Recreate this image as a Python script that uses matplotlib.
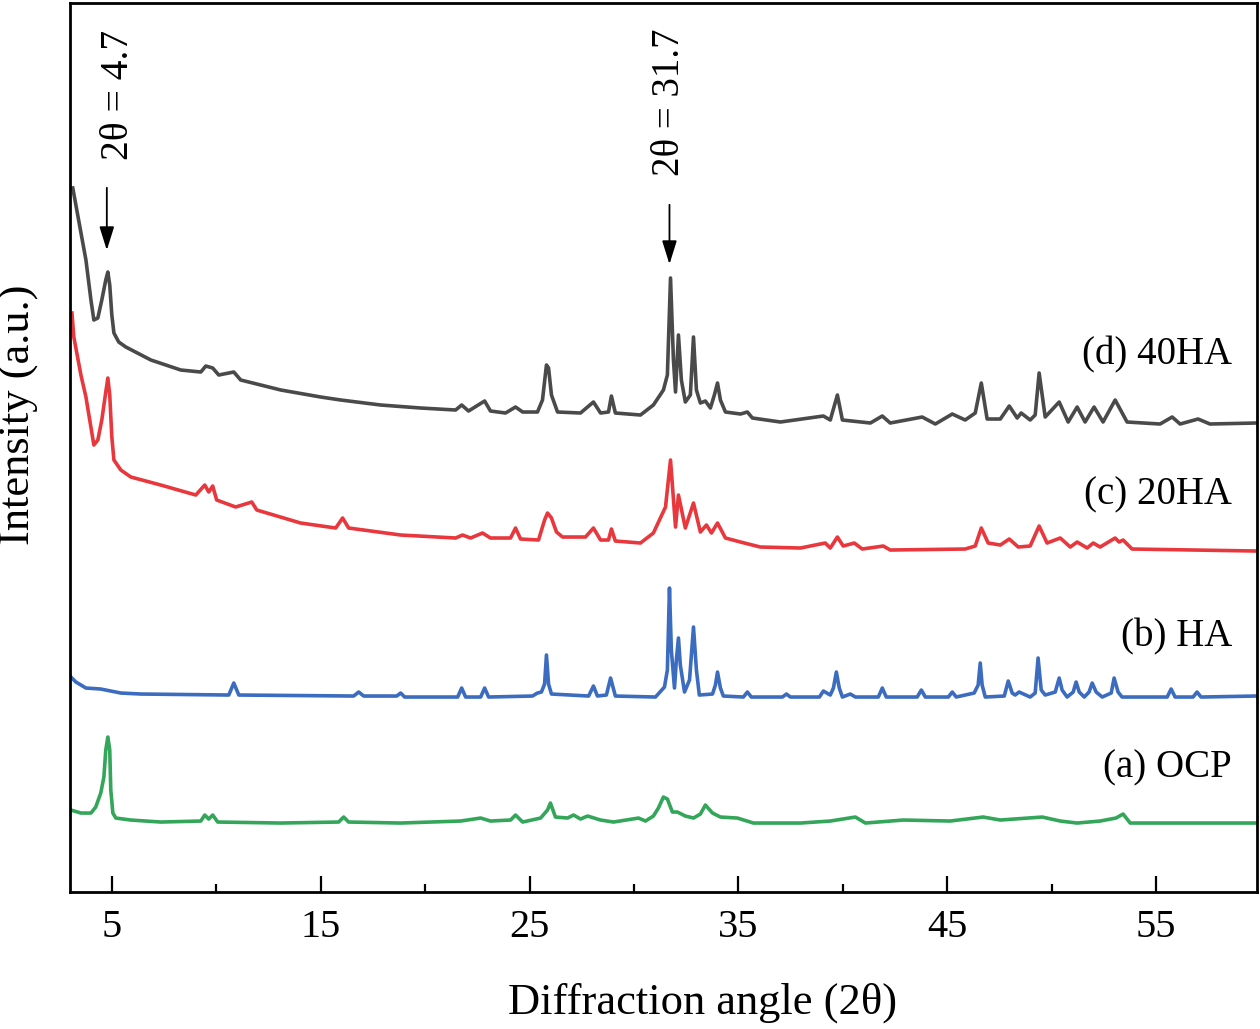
import matplotlib
matplotlib.use('Agg')
from matplotlib import pyplot as plt
from matplotlib.ticker import MultipleLocator

plt.rcParams['font.family'] = ['Liberation Serif', 'DejaVu Serif']

# (d) 40HA
d_x = [3.13, 3.76, 4.0, 4.14, 4.33, 4.52, 4.71, 4.81, 4.90, 5.0, 5.10, 5.33, 5.67, 6.87, 8.30,
       9.26, 9.50, 9.83, 10.12, 10.84, 11.17, 13.09, 15.0, 15.96, 17.87, 19.78, 21.46, 21.75,
       22.08, 22.85, 23.13, 23.85, 24.33, 24.67, 25.38, 25.62, 25.81, 25.91, 26.05, 26.34,
       27.44, 28.06, 28.40, 28.78, 28.92, 29.11, 30.31, 30.93, 31.41, 31.60, 31.75, 31.89,
       31.99, 32.13, 32.27, 32.46, 32.70, 32.85, 32.99, 33.18, 33.42, 33.66, 33.85, 34.00,
       34.14, 34.38, 35.10, 35.43, 35.67, 37.01, 39.07, 39.40, 39.74, 39.98, 41.32, 41.89,
       42.27, 43.80, 44.43, 45.24, 45.86, 46.34, 46.63, 46.91, 47.54, 47.97, 48.35, 48.54,
       48.97, 49.21, 49.40, 49.69, 50.36, 50.79, 51.22, 51.60, 52.03, 52.46, 53.04, 53.61,
       55.19, 55.77, 56.15, 57.01, 57.58, 59.79]
d_y = [704, 632, 592, 572, 574, 592, 612, 620, 607, 577, 559, 550, 545, 532, 522,
       520, 526, 524, 517, 520, 512, 502, 495, 492, 487, 484, 482, 487,
       481, 491, 481, 479, 485, 480, 480, 492, 527, 524, 497, 480,
       479, 490, 479, 480, 496, 479, 477, 487, 502, 517, 614, 532,
       500, 557, 512, 490, 497, 555, 502, 489, 491, 484, 497, 509,
       492, 480, 478, 480, 474, 470, 476, 472, 497, 472, 469, 476,
       469, 475, 468, 478, 472, 479, 509, 473, 473, 486, 474, 479,
       472, 477, 519, 475, 490, 470, 485, 470, 485, 470, 492, 470,
       468, 475, 468, 473, 468, 469]

# (c) 20HA
c_x = [3.09, 3.18, 3.52, 3.76, 4.14, 4.33, 4.52, 4.71, 4.81, 4.90, 5.0, 5.10, 5.43, 5.91,
       7.34, 9.02, 9.45, 9.64, 9.83, 10.02, 10.93, 11.70, 11.94, 14.04, 15.72, 16.05, 16.34,
       18.83, 21.46, 21.79, 22.18, 22.75, 23.13, 24.09, 24.33, 24.57, 25.43, 25.72, 25.86,
       26.05, 26.29, 26.58, 27.68, 28.06, 28.40, 28.78, 28.92, 29.11, 30.31, 30.93, 31.51,
       31.75, 31.99, 32.13, 32.46, 32.85, 33.18, 33.47, 33.71, 34.00, 34.38, 35.10, 36.05,
       37.97, 39.16, 39.40, 39.74, 40.02, 40.55, 40.93, 41.94, 42.27, 45.86, 46.34, 46.63,
       46.96, 47.54, 47.97, 48.40, 48.97, 49.40, 49.78, 50.41, 50.89, 51.22, 51.70, 51.99,
       52.32, 53.04, 53.23, 53.42, 53.85, 59.79]
c_y = [579, 555, 517, 495, 447, 452, 472, 500, 514, 497, 455, 432, 422, 415,
       407, 397, 407, 400, 406, 392, 385, 390, 382, 369, 364, 374, 364,
       357, 354, 357, 354, 359, 354, 354, 364, 353, 352, 372, 379,
       374, 360, 355, 355, 364, 352, 352, 363, 351, 349, 359, 385,
       432, 365, 397, 364, 389, 360, 367, 359, 369, 354, 350, 345,
       344, 349, 344, 355, 346, 349, 343, 346, 342, 343, 346, 364,
       349, 347, 353, 345, 346, 366, 349, 354, 345, 350, 344, 349,
       345, 354, 350, 352, 343, 341]

# (b) HA
b_x = [3.04, 3.28, 3.76, 4.47, 4.95, 5.43, 6.39, 10.60, 10.84, 11.08, 16.58, 16.82, 17.06,
       18.64, 18.83, 19.02, 21.56, 21.75, 21.94, 22.66, 22.85, 23.04, 25.14, 25.38, 25.57,
       25.72, 25.81, 25.91, 26.05, 27.83, 28.06, 28.25, 28.68, 28.88, 29.11, 31.03, 31.46,
       31.60, 31.70, 31.79, 31.94, 32.03, 32.13, 32.22, 32.42, 32.66, 32.85, 32.99, 33.13,
       33.76, 33.90, 34.00, 34.14, 34.28, 35.24, 35.43, 35.62, 37.11, 37.30, 37.49, 38.88,
       39.07, 39.40, 39.55, 39.69, 39.83, 39.98, 40.36, 40.60, 41.70, 41.89, 42.08, 43.56,
       43.76, 43.95, 45.05, 45.24, 45.43, 46.29, 46.48, 46.58, 46.67, 46.82, 47.73, 47.92,
       48.11, 48.25, 48.44, 48.97, 49.21, 49.35, 49.50, 49.69, 50.17, 50.36, 50.50, 50.74,
       51.03, 51.17, 51.32, 51.56, 51.79, 51.94, 52.13, 52.42, 52.85, 52.99, 53.18, 53.37,
       55.53, 55.72, 55.91, 56.77, 56.96, 57.15, 59.79]
b_y = [215, 210, 204, 203, 201, 199, 198, 197, 209, 197, 196, 200, 196,
       196, 199, 195, 195, 204, 195, 195, 204, 195, 196, 199, 200,
       208, 237, 208, 198, 196, 206, 196, 197, 214, 196, 195, 205,
       222, 304, 242, 204, 232, 254, 227, 200, 212, 265, 222, 197,
       198, 207, 220, 204, 196, 195, 200, 195, 195, 198, 195, 195,
       201, 197, 204, 220, 204, 195, 198, 195, 195, 204, 195, 195,
       202, 195, 195, 200, 195, 199, 207, 229, 207, 195, 196, 211,
       199, 197, 200, 195, 199, 234, 202, 197, 200, 214, 202, 195,
       200, 210, 200, 195, 200, 209, 200, 195, 199, 214, 200, 195,
       195, 203, 195, 195, 200, 195, 196]

# (a) OCP
a_x = [3.04, 3.52, 4.0, 4.23, 4.47, 4.62, 4.71, 4.81, 4.90, 4.95, 5.05, 5.19, 5.91, 7.34,
       9.26, 9.45, 9.64, 9.83, 10.07, 13.09, 15.86, 16.10, 16.34, 18.83, 21.70, 22.66, 23.13,
       24.09, 24.33, 24.67, 25.53, 25.86, 26.00, 26.24, 26.82, 27.11, 27.44, 27.78, 28.40,
       29.02, 30.22, 30.55, 30.93, 31.17, 31.41, 31.60, 31.84, 32.08, 32.46, 32.85, 33.18,
       33.42, 33.76, 34.14, 34.95, 35.72, 37.97, 39.40, 40.60, 41.08, 42.89, 45.14, 46.72,
       47.54, 49.55, 50.41, 51.22, 52.32, 53.08, 53.42, 53.76, 59.79]
a_y = [82, 79, 79, 85, 99, 115, 142, 155, 142, 102, 79, 74, 72, 70,
       71, 77, 73, 77, 70, 69, 70, 75, 70, 69, 71, 74, 71,
       72, 77, 70, 74, 82, 89, 75, 74, 77, 73, 76, 72,
       70, 74, 71, 76, 84, 95, 93, 80, 80, 76, 74, 78,
       87, 79, 75, 74, 69, 69, 71, 75, 69, 72, 71, 75,
       72, 75, 71, 69, 71, 74, 78, 69, 69]

series = [
    (d_x, d_y, '#4a4a4a', '(d) 40HA', 537),
    (c_x, c_y, '#e8383d', '(c) 20HA', 397),
    (b_x, b_y, '#3b6cc0', '(b) HA', 255),
    (a_x, a_y, '#33a65a', '(a) OCP', 124),
]

fig = plt.figure(figsize=(12.6, 10.29), dpi=100)
ax = fig.add_axes([0.0556, 0.1331, 0.942, 0.864])

for xs, ys, col, lab, ly in series:
    ax.plot(xs, ys, color=col, lw=2.6)
    ax.text(58.64, ly, lab, ha='right', va='center', fontsize=28)

# стрелки над пиками
ax.annotate('', xy=(4.76, 639), xytext=(4.76, 707),
            arrowprops=dict(arrowstyle='-|>,head_length=0.8,head_width=0.25',
                            color='black', lw=1.3, mutation_scale=18))
ax.annotate('', xy=(31.70, 625), xytext=(31.70, 690),
            arrowprops=dict(arrowstyle='-|>,head_length=0.8,head_width=0.25',
                            color='black', lw=1.3, mutation_scale=18))
ax.text(5.3, 797, '2θ = 4.7', rotation=90, ha='center', va='center', fontsize=28.5)
ax.text(31.70, 790, '2θ = 31.7', rotation=90, ha='center', va='center', fontsize=28)

ax.set_xlim(3, 59.83)
ax.set_ylim(0, 889)
ax.xaxis.set_major_locator(MultipleLocator(10, offset=5))
ax.xaxis.set_minor_locator(MultipleLocator(10))
ax.set_yticks([])
ax.tick_params(axis='x', which='major', direction='in', length=11.5, width=1.6,
               labelsize=29, pad=12)
ax.tick_params(axis='x', which='minor', direction='in', length=6, width=1.6)
for s in ax.spines.values():
    s.set_linewidth(2.0)

ax.set_xlabel('Diffraction angle (2θ)', fontsize=32)
ax.xaxis.set_label_coords(0.533, -0.102)
ax.set_ylabel('Intensity (a.u.)', fontsize=32)
ax.yaxis.set_label_coords(-0.026, 0.537)

fig.savefig('out.png', dpi=100)
